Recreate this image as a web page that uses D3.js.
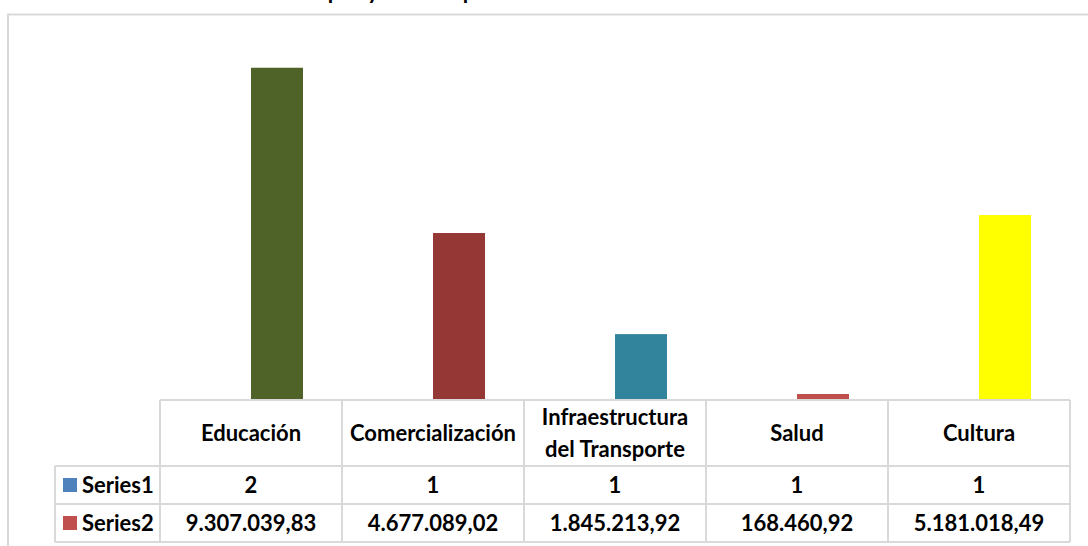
<!DOCTYPE html>
<html>
<head>
<meta charset="utf-8">
<script src="https://cdn.jsdelivr.net/npm/d3@7"></script>
<style>
  body { margin: 0; background: #fff; }
  text { font-family: Lato, "Open Sans", sans-serif; font-weight: bold; fill: #000; }
</style>
</head>
<body>
<div class="chart"></div>
<script>
var categories = ['Educación', 'Comercialización', 'Infraestructura\ndel Transporte', 'Salud', 'Cultura'];
var seriesNames = ['Series1', 'Series2'];
var series1 = [2, 1, 1, 1, 1];
var series2 = [9307039.83, 4677089.02, 1845213.92, 168460.92, 5181018.49];
var series1Labels = ['2', '1', '1', '1', '1'];
var series2Labels = ['9.307.039,83', '4.677.089,02', '1.845.213,92', '168.460,92', '5.181.018,49'];
var pointColors = ['#4F6228', '#953735', '#31849B', '#C0504D', '#FFFF00'];
var legendColors = ['#4F81BD', '#C0504D'];

var svgWidth = 1088;
var svgHeight = 546;

var svg = d3
  .select('.chart')
  .append('svg')
  .attr('width', svgWidth)
  .attr('height', svgHeight)
  .style('display', 'block');

// chart area frame (cropped on the right and bottom)
svg.append('rect')
  .attr('x', 8).attr('y', 14.5)
  .attr('width', 1200).attr('height', 600)
  .attr('fill', 'none')
  .attr('stroke', '#d9d9d9')
  .attr('stroke-width', 2);

// title, cut off by the top edge like in the source picture
svg.append('text')
  .attr('x', 309)
  .attr('y', -1)
  .attr('font-size', 22)
  .text('Tipos y montos por sector');

var tableTop = 400;
var headerH = 66;
var rowH = 38;

var x = d3.scaleBand().domain(d3.range(categories.length)).range([160, 1070]);
var xSeries = d3.scaleBand().domain(seriesNames).range([0, x.bandwidth()]).paddingOuter(0.75);
var y = d3.scaleLinear().domain([0, 10000000]).range([tableTop, 43]);

var chart = svg.append('g');

// Series1 bars (too small to see)
chart.selectAll('.s1')
  .data(series1)
  .enter()
  .append('rect')
  .attr('class', 's1')
  .attr('x', function(d, i) { return x(i) + xSeries('Series1'); })
  .attr('y', function(d) { return y(d); })
  .attr('width', xSeries.bandwidth())
  .attr('height', function(d) { return y(0) - y(d); })
  .attr('fill', legendColors[0]);

// Series2 bars, colour varies by point
chart.selectAll('.s2')
  .data(series2)
  .enter()
  .append('rect')
  .attr('class', 's2')
  .attr('x', function(d, i) { return x(i) + xSeries('Series2'); })
  .attr('y', function(d) { return y(d); })
  .attr('width', xSeries.bandwidth())
  .attr('height', function(d) { return y(0) - y(d); })
  .attr('fill', function(d, i) { return pointColors[i]; });

// data table
var grid = svg.append('g')
  .attr('stroke', '#d9d9d9')
  .attr('stroke-width', 2)
  .attr('fill', 'none');

var tableBottom = tableTop + headerH + 2 * rowH;
var rowLines = [tableTop, tableTop + headerH, tableTop + headerH + rowH, tableBottom];

grid.selectAll('.hl')
  .data(rowLines)
  .enter()
  .append('line')
  .attr('x1', function(d, i) { return i === 0 ? 160 : 55; })
  .attr('x2', 1070)
  .attr('y1', function(d) { return d; })
  .attr('y2', function(d) { return d; });

var colLines = d3.range(categories.length + 1).map(function(i) {
  return i < categories.length ? x(i) : x.range()[1];
});

grid.selectAll('.vl')
  .data(colLines)
  .enter()
  .append('line')
  .attr('x1', function(d) { return d; })
  .attr('x2', function(d) { return d; })
  .attr('y1', tableTop)
  .attr('y2', tableBottom);

grid.append('line')
  .attr('x1', 55).attr('x2', 55)
  .attr('y1', tableTop + headerH).attr('y2', tableBottom);

var fs = 22;

// header labels
svg.append('g').selectAll('text')
  .data(categories)
  .enter()
  .append('text')
  .attr('font-size', fs)
  .attr('text-anchor', 'middle')
  .attr('x', function(d, i) { return x(i) + x.bandwidth() / 2; })
  .attr('y', tableTop + headerH / 2)
  .each(function(d) {
    var lines = d.split('\n');
    var t = d3.select(this);
    lines.forEach(function(line, k) {
      t.append('tspan')
        .attr('x', t.attr('x'))
        .attr('dy', k === 0 ? (0.35 - (lines.length - 1) * 0.725) + 'em' : '1.45em')
        .text(line);
    });
  });

var rows = [series1Labels, series2Labels];

rows.forEach(function(labels, r) {
  var cy = tableTop + headerH + r * rowH + rowH / 2;

  svg.append('rect')
    .attr('x', 63).attr('y', cy - 7)
    .attr('width', 14).attr('height', 14)
    .attr('fill', legendColors[r]);

  svg.append('text')
    .attr('x', 82)
    .attr('y', cy)
    .attr('dy', '0.35em')
    .attr('font-size', fs)
    .text(seriesNames[r]);

  svg.append('g').selectAll('text')
    .data(labels)
    .enter()
    .append('text')
    .attr('font-size', fs)
    .attr('text-anchor', 'middle')
    .attr('x', function(d, i) { return x(i) + x.bandwidth() / 2; })
    .attr('y', cy)
    .attr('dy', '0.35em')
    .text(function(d) { return d; });
});
</script>
</body>
</html>
